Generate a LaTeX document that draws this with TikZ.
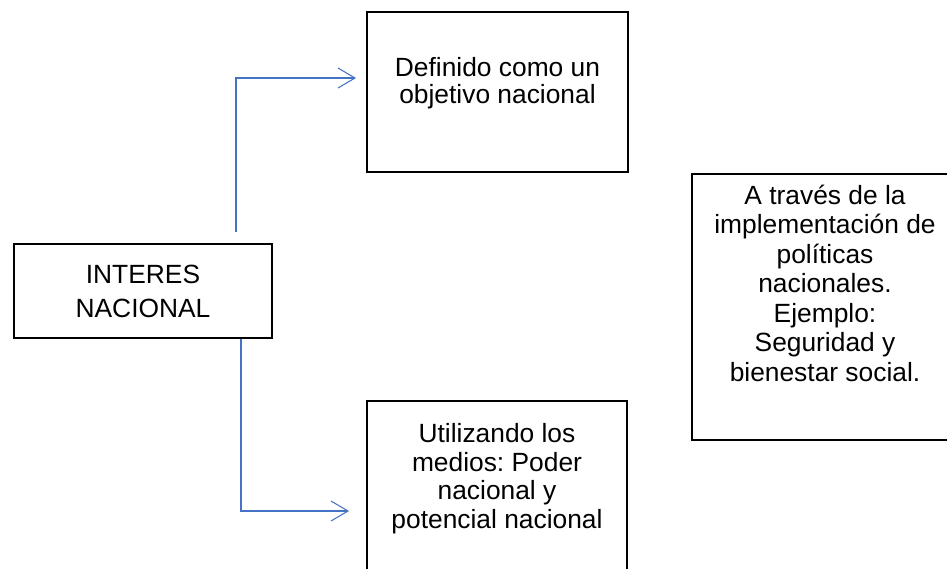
\documentclass[tikz,border=0pt]{standalone}
\usepackage{fontspec}
\setmainfont{Liberation Sans}
\usetikzlibrary{positioning, arrows.meta}
\frenchspacing

\definecolor{lineablue}{HTML}{4472C4}

\begin{document}
\begin{tikzpicture}[
    caja/.style = {rectangle, draw, line width = 1.1pt, minimum width = 5.2cm},
    texto/.style = {align = center, inner sep = 0pt, font = \fontsize{15}{16.8}\selectfont},
    flecha/.style = {draw = lineablue, line width = 0.6pt, -{Straight Barb[length = 0.34cm, width = 0.4cm]}}
  ]
      \clip (0, 0) rectangle (18.94, -11.36);

      \node[caja, minimum width = 5.16cm, minimum height = 1.88cm] (interes) at (2.86, -5.82) {};
      \node[caja, minimum width = 5.22cm, minimum height = 3.2cm] (definido) at (9.95, -1.84) {};
      \node[caja, minimum width = 5.2cm, minimum height = 3.5cm] (utilizando) at (9.94, -9.77) {};
      \node[caja, minimum width = 5.32cm, minimum height = 5.32cm] (atraves) at (16.5, -6.14) {};

      % textos
      \node[texto, font = \fontsize{15}{19.3}\selectfont] (interesTxt) at (interes) {INTERES\\NACIONAL};
      \node[texto, font = \fontsize{15}{15.4}\selectfont] (definidoTxt) [below = 0.92cm of definido.north] {Definido como un\\objetivo nacional};
      \node[texto, font = \fontsize{15}{16.3}\selectfont] (utilizandoTxt) [below = 0.46cm of utilizando.north] {Utilizando los\\medios: Poder\\nacional y\\potencial nacional};
      \node[texto] (atravesTxt) [below = 0.23cm of atraves.north] {A través de la\\implementación de\\políticas\\nacionales.\\Ejemplo:\\Seguridad y\\bienestar social.};

      \draw[flecha] ([xshift = 1.86cm, yshift = 0.22cm]interes.north) |- ([xshift = -0.2cm, yshift = 0.28cm]definido.west);
      \draw[flecha] ([xshift = 1.96cm]interes.south) |- ([xshift = -0.34cm, yshift = -0.45cm]utilizando.west);
    \end{tikzpicture}
\end{document}
